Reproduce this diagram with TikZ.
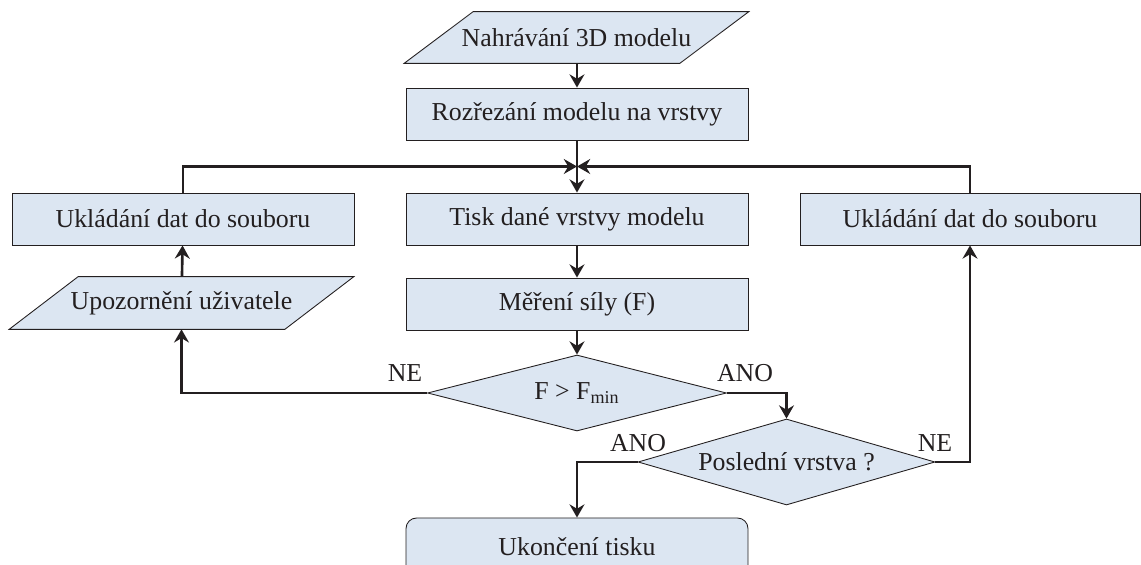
\documentclass[tikz,border=0pt]{standalone}
\usepackage{fontspec}
\setmainfont{Liberation Serif}
\usetikzlibrary{shapes.geometric,arrows.meta,backgrounds}
\definecolor{boxblue}{RGB}{220,230,242}
\definecolor{ink}{RGB}{35,31,32}
\begin{document}
\begin{tikzpicture}[>={Stealth[length=7.5pt,width=8.5pt,inset=2.5pt]},
  font=\fontsize{14.7}{17}\selectfont, text=ink,
  box/.style={draw=ink,fill=boxblue,line width=0.5pt,minimum width=6.84cm,minimum height=1.04cm,inner sep=0pt},
  io/.style={rectangle,minimum height=1.04cm,inner sep=0pt},
  iobox/.style={draw=ink,fill=boxblue,line width=0.5pt},
  dec/.style={diamond,draw=ink,fill=boxblue,line width=0.5pt,inner sep=0pt,aspect=3.5},
  conn/.style={->,draw=ink,line width=1.5pt}]
\useasboundingbox (0,0) rectangle (22.82,-11.3);
% hlavni sloupec
\node[io,minimum width=5.5cm,minimum height=1.02cm] (load) at (11.53,-0.75) {Nahrávání 3D modelu};
\node[box] (cut) at (11.54,-2.28) {Rozřezání modelu na vrstvy};
\coordinate (join) at (11.54,-3.33);
\node[box] (print) at (11.54,-4.38) {Tisk dané vrstvy modelu};
\node[box] (meas) at (11.54,-6.08) {Měření síly (F)};
\node[dec,minimum width=5.98cm,minimum height=1.52cm] (fmin) at (11.54,-7.86) {F > F\textsubscript{min}};
\node[dec,minimum width=5.94cm,minimum height=1.72cm] (last) at (15.73,-9.24) {Poslední vrstva ?};
\node[box,rounded corners=6pt,minimum height=1.16cm] (stop) at (11.54,-10.94) {Ukončení tisku};
% vetve
\node[box] (saveL) at (3.66,-4.38) {Ukládání dat do souboru};
\node[io,minimum width=5.5cm] (warn) at (3.63,-6.06) {Upozornění uživatele};
\node[box,minimum width=6.8cm] (saveR) at (19.4,-4.38) {Ukládání dat do souboru};
% rovnobezniky pod textem
\begin{scope}[on background layer]
  \foreach \n in {load,warn}
    \draw[iobox] ([xshift=-0.69cm]\n.south west) -- ([xshift=0.69cm]\n.north west)
      -- ([xshift=0.69cm]\n.north east) -- ([xshift=-0.69cm]\n.south east) -- cycle;
\end{scope}
% popisky
\node (neA) at (8.1,-7.46) {NE};
\node (anoA) at (14.9,-7.46) {ANO};
\node (anoB) at (12.76,-8.86) {ANO};
\node (neB) at (18.7,-8.86) {NE};
% spoje
\draw[conn] (load.south -| cut.north) -- (cut);
\draw[conn,-] (cut) -- (join);
\draw[conn] (join) -- (print);
\draw[conn] (saveL) |- (join);
\draw[conn] (saveR) |- (join);
\draw[conn] (print) -- (meas);
\draw[conn] (meas) -- (fmin);
\draw[conn] (fmin.west) -| (warn);
\draw[conn] (warn) -- (saveL);
\draw[conn] (fmin.east) -| (last);
\draw[conn] (last.west) -| (stop);
\draw[conn] (last.east) -| (saveR);
\end{tikzpicture}
\end{document}
